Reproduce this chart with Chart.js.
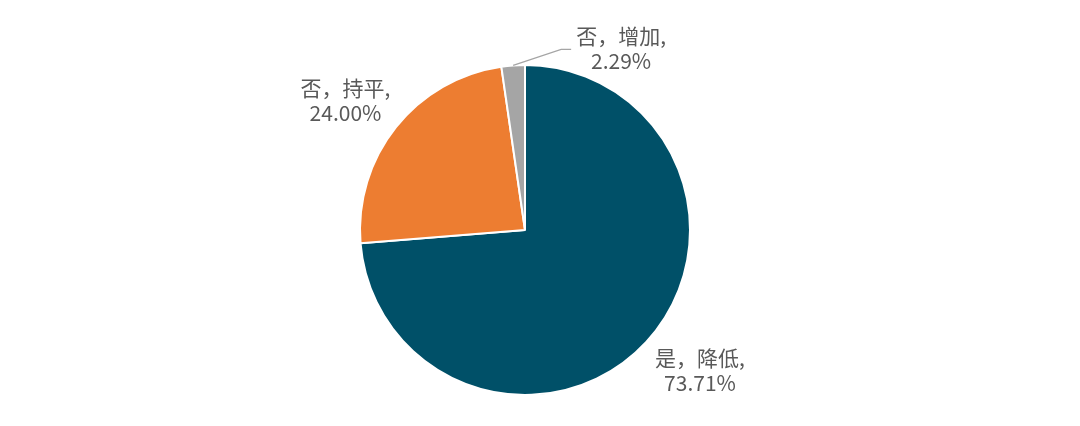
<!DOCTYPE html>
<html>
<head>
<meta charset="utf-8">
<script src="https://cdn.jsdelivr.net/npm/chart.js@4"></script>
<style>
  html, body { margin: 0; padding: 0; background: #fff; }
  #wrap { width: 1080px; height: 426px; position: relative; }
</style>
</head>
<body>
<div id="wrap"><canvas id="pieChart"></canvas></div>
<script>
const labels = ['是，降低', '否，持平', '否，增加'];
const values = [73.71, 24.00, 2.29];
const colors = ['#005068', '#ED7D31', '#A5A5A5'];

// draws "name,\nxx.xx%" next to every slice
const sliceLabels = {
    id: 'sliceLabels',
    afterDatasetsDraw(chart) {
        const ctx = chart.ctx;
        const arcs = chart.getDatasetMeta(0).data;
        const nudge = [[10, -12], [-4, 10], [0, 0]];
        ctx.save();
        ctx.font = '21px "Noto Sans CJK SC", "Open Sans", sans-serif';
        ctx.fillStyle = '#595959';
        ctx.textAlign = 'center';
        ctx.textBaseline = 'middle';
        for (let i = 0; i < arcs.length; i++) {
            const a = arcs[i];
            const mid = (a.startAngle + a.endAngle) / 2;
            const text1 = labels[i] + ',';
            const text2 = values[i].toFixed(2) + '%';
            let x, y;
            if (i == 2) {
                // small slice: label pushed right with a leader line
                const px = a.x + Math.cos(mid) * a.outerRadius;
                const py = a.y + Math.sin(mid) * a.outerRadius;
                const ex = px + 48, ey = py - 16;
                ctx.strokeStyle = '#A5A5A5';
                ctx.lineWidth = 1.2;
                ctx.beginPath();
                ctx.moveTo(px, py);
                ctx.lineTo(ex, ey);
                ctx.lineTo(ex + 10, ey);
                ctx.stroke();
                x = ex + 60;
                y = ey - 1;
            } else {
                const d = a.outerRadius * 1.36;
                x = a.x + Math.cos(mid) * d + nudge[i][0];
                y = a.y + Math.sin(mid) * d + nudge[i][1];
            }
            ctx.fillText(text1, x, y - 12);
            ctx.fillText(text2, x, y + 13);
        }
        ctx.restore();
    }
};

new Chart(document.getElementById('pieChart'), {
    type: 'pie',
    data: {
        labels: labels,
        datasets: [{
            data: values,
            backgroundColor: colors,
            borderColor: '#ffffff',
            borderWidth: 2
        }]
    },
    options: {
        responsive: true,
        maintainAspectRatio: false,
        animation: false,
        layout: {
            padding: { top: 64, bottom: 30, left: 0, right: 30 }
        },
        plugins: {
            legend: { display: false },
            tooltip: { enabled: false }
        }
    },
    plugins: [sliceLabels]
});
</script>
</body>
</html>
